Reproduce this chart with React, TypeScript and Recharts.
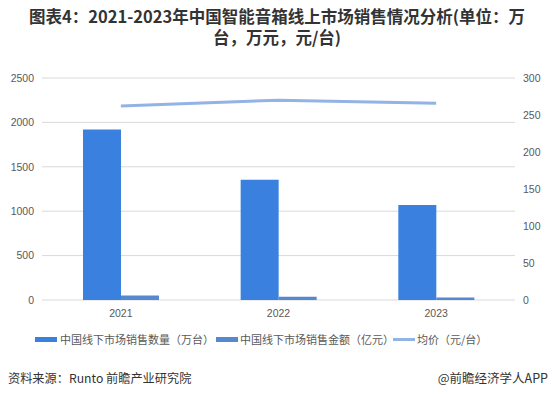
import React from "react";
import { ComposedChart, Bar, Line, XAxis, YAxis, CartesianGrid } from "recharts";

const years = ["2021", "2022", "2023"];
const volume = [1920, 1355, 1070];
const amount = [50, 36, 28];
const price = [262, 270, 266];
const leftTicks = [0, 500, 1000, 1500, 2000, 2500];
const rightTicks = [0, 50, 100, 150, 200, 250, 300];

const data = years.map((y, i) => ({ year: y, volume: volume[i], amount: amount[i], price: price[i] }));

const C1 = "#3a80de";
const C2 = "#5688cf";
const C3 = "#92b3e3";
const cjk = '"Noto Sans CJK SC", "Liberation Sans", sans-serif';
const tickStyle = { fontSize: 10.5, fill: "#595959", fontFamily: '"Liberation Sans", "DejaVu Sans", sans-serif' };

export default function App() {
  return (
    <div style={{ position: "absolute", left: 0, top: 0, width: 554, height: 396, background: "#fff", fontFamily: cjk }}>
      <div style={{ position: "absolute", left: 0, top: 6, width: 554, textAlign: "center", fontSize: 16.5, fontWeight: "bold", color: "#333", lineHeight: "21px" }}>
        <div>图表4：2021-2023年中国智能音箱线上市场销售情况分析(单位：万</div>
        <div>台，万元，元/台)</div>
      </div>
      <div style={{ position: "absolute", left: 0, top: 0 }}>
        <ComposedChart width={554} height={396} data={data} margin={{ top: 78, right: 0, bottom: 76, left: 0 }} barCategoryGap="26%" barGap={0}>
          <CartesianGrid vertical={false} stroke="#d9d9d9" yAxisId="left" />
          <XAxis dataKey="year" axisLine={false} tickLine={false} tick={tickStyle} height={20} tickMargin={4} />
          <YAxis yAxisId="left" orientation="left" width={42} domain={[0, 2500]} ticks={leftTicks} axisLine={false} tickLine={false} tick={tickStyle} interval={0} />
          <YAxis yAxisId="right" orientation="right" width={39} domain={[0, 300]} ticks={rightTicks} axisLine={false} tickLine={false} tick={tickStyle} interval={0} />
          <Bar yAxisId="left" dataKey="volume" fill={C1} isAnimationActive={false} />
          <Bar yAxisId="left" dataKey="amount" fill={C2} isAnimationActive={false} />
          <Line yAxisId="right" dataKey="price" stroke={C3} strokeWidth={3} dot={false} isAnimationActive={false} />
        </ComposedChart>
      </div>
      <div style={{ position: "absolute", left: 35, top: 337, width: 22, height: 5, background: C1 }} />
      <div style={{ position: "absolute", left: 60, top: 331, fontSize: 11, color: "#595959", lineHeight: "16px", whiteSpace: "nowrap" }}>中国线下市场销售数量（万台）</div>
      <div style={{ position: "absolute", left: 216, top: 337, width: 22, height: 5, background: C2 }} />
      <div style={{ position: "absolute", left: 240, top: 331, fontSize: 11, color: "#595959", lineHeight: "16px", whiteSpace: "nowrap" }}>中国线下市场销售金额（亿元）</div>
      <div style={{ position: "absolute", left: 393, top: 338, width: 22, height: 3, background: C3 }} />
      <div style={{ position: "absolute", left: 417, top: 331, fontSize: 11, color: "#595959", lineHeight: "16px", whiteSpace: "nowrap" }}>均价（元/台）</div>
      <div style={{ position: "absolute", left: 8, top: 369, fontSize: 12.2, color: "#333", lineHeight: "18px", whiteSpace: "nowrap" }}>资料来源：Runto 前瞻产业研究院</div>
      <div style={{ position: "absolute", right: 6, top: 369, fontSize: 12.5, color: "#333", lineHeight: "18px", whiteSpace: "nowrap" }}>@前瞻经济学人APP</div>
    </div>
  );
}
